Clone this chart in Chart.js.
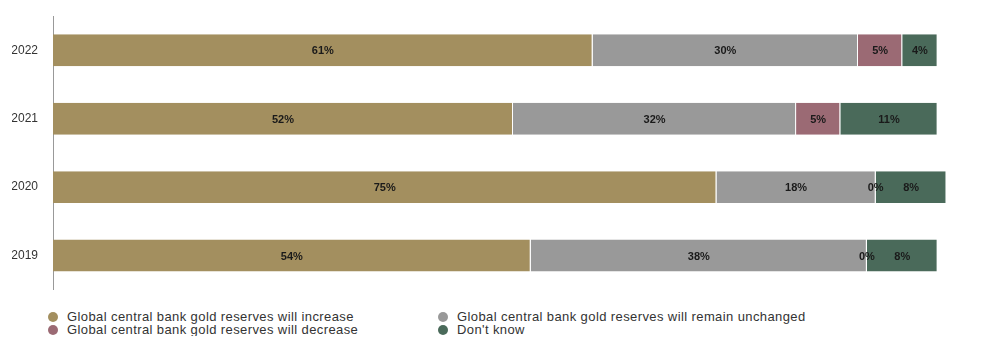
<!DOCTYPE html>
<html>
<head>
<meta charset="utf-8">
<script src="https://cdn.jsdelivr.net/npm/chart.js@4/dist/chart.umd.min.js"></script>
<style>
  html, body { margin:0; padding:0; background:#fff; }
  #wrap { position:relative; width:983px; height:300px; }
  .legend { display:flex; flex-wrap:wrap; width:800px; margin:10px 0 0 48px;
            font-family:Arial, "Liberation Sans", sans-serif; font-size:13px; color:#333; letter-spacing:0.4px; }
  .legend .item { width:390px; height:13px; line-height:13px; display:flex; align-items:center; white-space:nowrap; }
  .legend .dot { width:10px; height:10px; border-radius:50%; margin-right:9px; flex:none; }
</style>
</head>
<body>
<div id="wrap"><canvas id="chart"></canvas></div>
<div class="legend" id="legend"></div>
<script>
// ---- data ----
const years     = ['2022', '2021', '2020', '2019'];
const increase  = [61, 52, 75, 54];
const unchanged = [30, 32, 18, 38];
const decrease  = [5, 5, 0, 0];
const dontKnow  = [4, 11, 8, 8];

const seriesNames = [
  'Global central bank gold reserves will increase',
  'Global central bank gold reserves will remain unchanged',
  'Global central bank gold reserves will decrease',
  "Don't know"
];
const seriesColors = ['#a38f5f', '#999999', '#9b6a74', '#4a6a5a'];
const seriesData   = [increase, unchanged, decrease, dontKnow];

// draw "NN%" in the middle of every segment
const barLabels = {
  id: 'barLabels',
  afterDatasetsDraw(chart) {
    const ctx = chart.ctx;
    ctx.save();
    ctx.font = 'bold 11px Arial, "Liberation Sans", sans-serif';
    ctx.fillStyle = '#1a1a1a';
    ctx.textAlign = 'center';
    ctx.textBaseline = 'middle';
    chart.data.datasets.forEach((ds, i) => {
      chart.getDatasetMeta(i).data.forEach((bar, j) => {
        const cx = (bar.x + bar.base) / 2;
        ctx.fillText(ds.data[j] + '%', cx, bar.y + 1);
      });
    });
    ctx.restore();
  }
};

new Chart(document.getElementById('chart'), {
  type: 'bar',
  data: {
    labels: years,
    datasets: seriesData.map((d, i) => ({
      label: seriesNames[i],
      data: d,
      backgroundColor: seriesColors[i],
      borderColor: '#ffffff',
      borderWidth: { top: 0, bottom: 0, left: 0, right: 1 },
      borderSkipped: false,
      categoryPercentage: 1,
      barPercentage: 0.467
    }))
  },
  options: {
    indexAxis: 'y',
    responsive: true,
    maintainAspectRatio: false,
    animation: false,
    layout: { padding: { left: 12, top: 16, right: 10, bottom: 10 } },
    plugins: { legend: { display: false }, tooltip: { enabled: false } },
    scales: {
      x: { stacked: true, display: false, min: 0, max: 104 },
      y: {
        stacked: true,
        afterFit(scale) { scale.width = 41; },
        grid: { display: false, drawTicks: true, tickLength: 12 },
        border: { display: true, color: '#999999', width: 1 },
        ticks: { padding: 3, color: '#333', font: { family: 'Arial, "Liberation Sans", sans-serif', size: 12 } }
      }
    }
  },
  plugins: [barLabels]
});

// legend in two columns
document.getElementById('legend').innerHTML = seriesNames.map((n, i) =>
  `<div class="item"><span class="dot" style="background:${seriesColors[i]}"></span>${n}</div>`).join('');
</script>
</body>
</html>
